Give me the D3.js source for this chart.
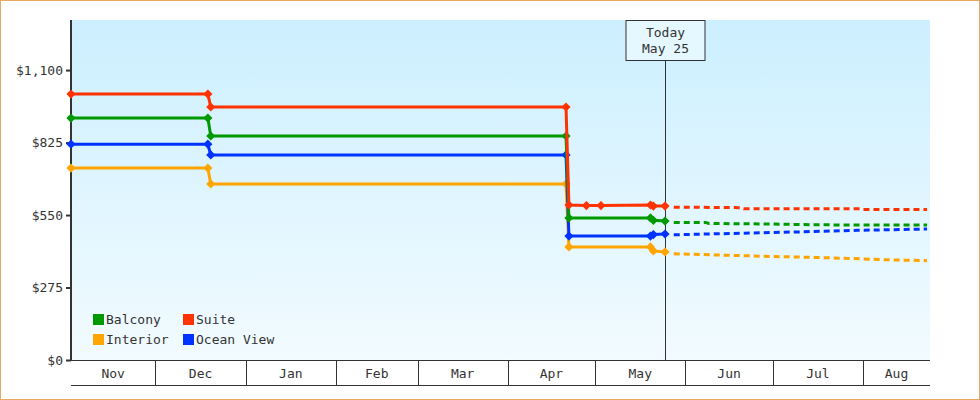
<!DOCTYPE html><html><head><meta charset="utf-8">
<script src="https://cdn.jsdelivr.net/npm/d3@7"></script>
<style>body{margin:0;background:#fff}svg{display:block}text{font-family:"DejaVu Sans Mono",monospace;fill:#333}</style>
</head><body><svg id="c" width="980" height="400"></svg>
<script>
const seriesNames = ["Balcony","Suite","Interior","Ocean View"];
const seriesColors = ["#009900","#ff3300","#ffa500","#0033ff"];
const legendOrder = ["Balcony","Suite","Interior","Ocean View"];
const yTicks = [0,275,550,825,1100];
const monthLabels = ["Nov","Dec","Jan","Feb","Mar","Apr","May","Jun","Jul","Aug"];
const todayLabel = ["Today","May 25"];
const todayDate = "2025-05-25";
// [date, price] actual history
const balcony = [["2024-11-02",918],["2024-12-19",918],["2024-12-20",850],["2025-04-21",850],["2025-04-22",539],["2025-05-20",539],["2025-05-21",530],["2025-05-25",527]];
const suite = [["2024-11-02",1009],["2024-12-19",1009],["2024-12-20",960],["2025-04-21",960],["2025-04-22",588],["2025-04-28",586],["2025-05-03",586],["2025-05-20",588],["2025-05-21",584],["2025-05-25",584]];
const interior = [["2024-11-02",728],["2024-12-19",728],["2024-12-20",668],["2025-04-21",668],["2025-04-22",429],["2025-05-20",429],["2025-05-21",414],["2025-05-25",410]];
const oceanView = [["2024-11-02",819],["2024-12-19",819],["2024-12-20",778],["2025-04-21",778],["2025-04-22",470],["2025-05-20",470],["2025-05-21",476],["2025-05-25",478]];
// forecast
const balconyF = [["2025-05-28",522],["2025-06-08",522],["2025-06-09",518],["2025-07-01",516],["2025-07-15",513],["2025-08-05",512],["2025-08-23",512]];
const suiteF = [["2025-05-28",580],["2025-06-20",578],["2025-06-21",574],["2025-07-31",574],["2025-08-01",571],["2025-08-23",571]];
const interiorF = [["2025-05-28",403],["2025-06-30",393],["2025-07-20",388],["2025-08-10",380],["2025-08-23",377]];
const oceanViewF = [["2025-05-28",475],["2025-06-20",481],["2025-07-10",486],["2025-07-30",492],["2025-08-23",497]];
const actual = [balcony,suite,interior,oceanView];
const forecast = [balconyF,suiteF,interiorF,oceanViewF];

const P = d3.timeParse("%Y-%m-%d");
const svg = d3.select("#c");
const L=71,R=930,T=20,B=360;
svg.append("rect").attr("x",0.5).attr("y",0.5).attr("width",979).attr("height",399).attr("fill","none").attr("stroke","#e8a860");
const defs=svg.append("defs");
const g=defs.append("linearGradient").attr("id","bg").attr("x1",0).attr("y1",0).attr("x2",0).attr("y2",1);
g.append("stop").attr("offset","0%").attr("stop-color","#ccefff");
g.append("stop").attr("offset","100%").attr("stop-color","#f2fbff");
svg.append("rect").attr("x",L).attr("y",T).attr("width",R-L).attr("height",B-T).attr("fill","url(#bg)");
const x=d3.scaleTime().domain([P("2024-11-02"),P("2025-08-24")]).range([L,R]);
const y=d3.scaleLinear().domain([0,1290]).range([B,T]);
// y axis
const ya=svg.append("g").attr("transform",`translate(${L},0)`).call(d3.axisLeft(y).tickValues(yTicks).tickSize(5).tickFormat(d=>"$"+d3.format(",")(d)));
ya.select(".domain").attr("stroke","#333").attr("stroke-width",2).attr("d",`M0,${T}V${B}`);
ya.selectAll("line").attr("stroke","#333").attr("stroke-width",2);
ya.selectAll("text").attr("font-size",13).attr("font-family","DejaVu Sans Mono").attr("fill","#333");
// x axis bands
const starts=d3.timeMonth.range(P("2024-11-01"),P("2025-10-01"));
const xa=svg.append("g");
xa.append("line").attr("x1",L).attr("x2",R).attr("y1",B+0.5).attr("y2",B+0.5).attr("stroke","#333");
xa.append("line").attr("x1",L).attr("x2",R).attr("y1",385.5).attr("y2",385.5).attr("stroke","#333");
starts.slice(1,10).forEach(d=>{const xx=Math.round(x(d))+0.5;xa.append("line").attr("x1",xx).attr("x2",xx).attr("y1",B).attr("y2",385).attr("stroke","#333");});
monthLabels.forEach((m,i)=>{const a=Math.max(L,x(starts[i])),b=Math.min(R,x(starts[i+1]));
 xa.append("text").attr("x",(a+b)/2).attr("y",378).attr("text-anchor","middle").attr("font-size",13).text(m);});
// today
const tx=Math.round(x(P(todayDate)))+0.5;
svg.append("line").attr("x1",tx).attr("x2",tx).attr("y1",60).attr("y2",B).attr("stroke","#333");
svg.append("rect").attr("x",tx-39.5).attr("y",20.5).attr("width",79).attr("height",40).attr("fill","#e6f8ff").attr("stroke","#333");
todayLabel.forEach((t,i)=>svg.append("text").attr("x",tx).attr("y",37+i*16).attr("text-anchor","middle").attr("font-size",13).text(t));
// lines
const line=d3.line().x(d=>x(P(d[0]))).y(d=>y(d[1]));
const order=[2,3,0,1];
order.forEach(i=>{
 svg.append("path").attr("d",line(forecast[i])).attr("fill","none").attr("stroke",seriesColors[i]).attr("stroke-width",3).attr("stroke-dasharray","6,4");
});
order.forEach(i=>{
 svg.append("path").attr("d",line(actual[i])).attr("fill","none").attr("stroke",seriesColors[i]).attr("stroke-width",3);
 svg.selectAll(null).data(actual[i]).enter().append("path").attr("d",d3.symbol(d3.symbolSquare,42))
  .attr("transform",d=>`translate(${x(P(d[0]))},${y(d[1])}) rotate(45)`).attr("fill",seriesColors[i]);
});
// legend
legendOrder.forEach((n,k)=>{const i=seriesNames.indexOf(n);const lx=93+(k%2)*90, ly=314+Math.floor(k/2)*20;
 svg.append("rect").attr("x",lx).attr("y",ly).attr("width",11).attr("height",11).attr("fill",seriesColors[i]);
 svg.append("text").attr("x",lx+13).attr("y",ly+10).attr("font-size",13).text(n);});
</script></body></html>
